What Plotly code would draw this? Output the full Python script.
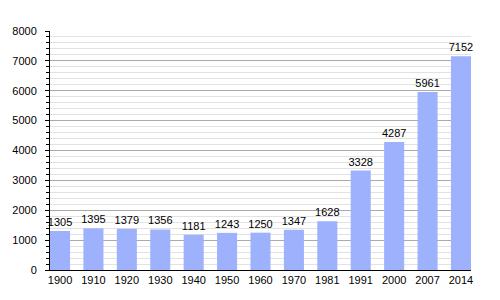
import plotly.graph_objects as go

years = ["1900", "1910", "1920", "1930", "1940", "1950", "1960", "1970", "1981", "1991", "2000", "2007", "2014"]
population = [1305, 1395, 1379, 1356, 1181, 1243, 1250, 1347, 1628, 3328, 4287, 5961, 7152]

fig = go.Figure(
    go.Bar(
        x=years,
        y=population,
        marker=dict(color="#9db1fc", line=dict(width=0)),
        text=[str(v) for v in population],
        textposition="outside",
        constraintext="none",
        textfont=dict(family="Liberation Sans, Arial, sans-serif", size=11, color="#000"),
        cliponaxis=False,
    )
)

fig.update_layout(
    width=500,
    height=300,
    margin=dict(l=50, r=29, t=31, b=30),
    paper_bgcolor="white",
    plot_bgcolor="white",
    bargap=0.4,
    showlegend=False,
    font=dict(family="Liberation Sans, Arial, sans-serif", size=11, color="#000"),
)

fig.update_xaxes(
    type="category",
    range=[-0.3, 12.3],
    showline=True,
    linecolor="#000",
    linewidth=1,
    ticks="",
    showgrid=False,
    tickfont=dict(size=11, color="#000"),
)

fig.update_yaxes(
    range=[0, 8000],
    dtick=1000,
    tick0=0,
    showline=True,
    linecolor="#000",
    linewidth=1,
    ticks="outside",
    ticklen=4,
    tickcolor="#000",
    showgrid=True,
    gridcolor="#aaaaaa",
    gridwidth=1,
    zeroline=False,
    tickfont=dict(size=11, color="#000"),
    ticklabelstandoff=6,
    minor=dict(
        dtick=200,
        tick0=0,
        ticks="outside",
        ticklen=3,
        tickcolor="#000",
        showgrid=True,
        gridcolor="#e2e2e2",
        gridwidth=1,
    ),
)

fig.write_html("out.html")
